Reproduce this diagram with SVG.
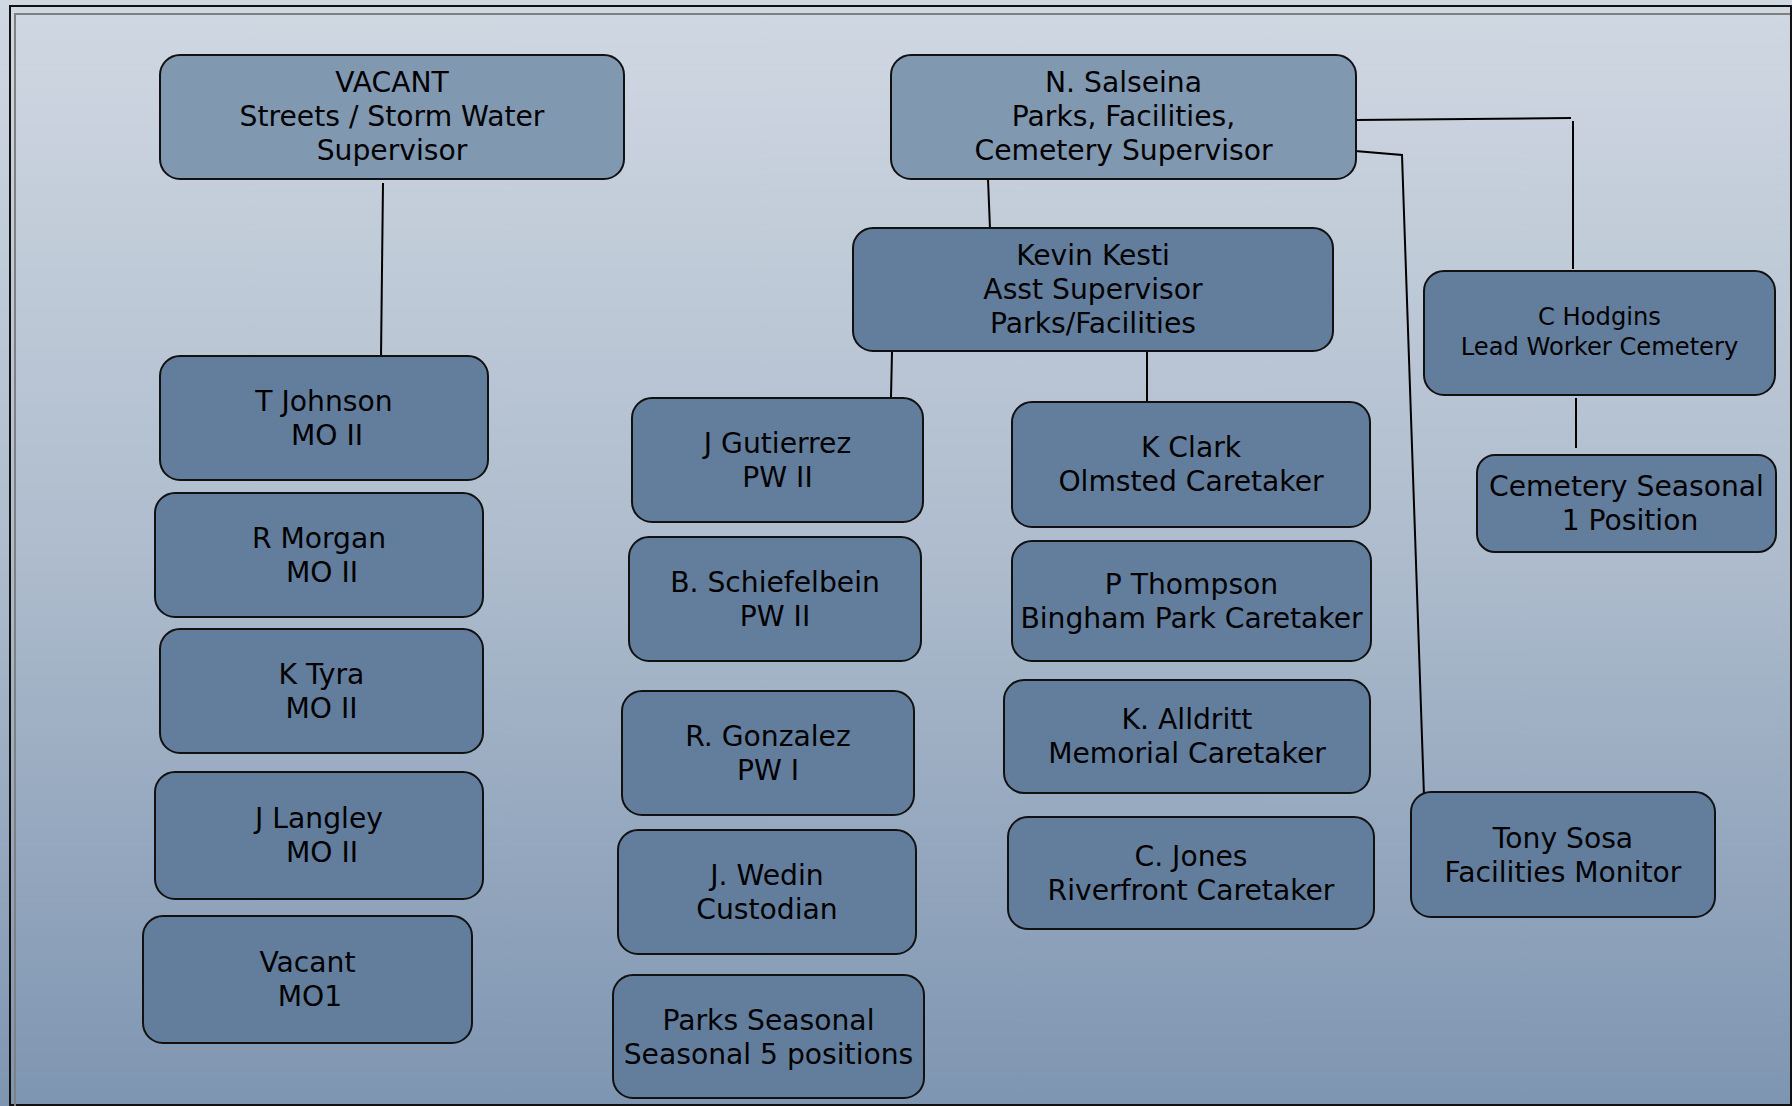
<svg xmlns="http://www.w3.org/2000/svg" width="1792" height="1106" viewBox="0 0 1792 1106">
<defs>
<linearGradient id="bg" x1="0" y1="0" x2="0" y2="1">
<stop offset="0" stop-color="#d0d8e2"/>
<stop offset="0.5" stop-color="#aebccd"/>
<stop offset="1" stop-color="#7e95b1"/>
</linearGradient>
<style>
.box{fill:#637e9c;stroke:#111;stroke-width:2}
.light{fill:#8198b1}
.t{font-family:"DejaVu Sans",Verdana,sans-serif;font-size:28.2px;fill:#000;text-anchor:middle}
.s{font-size:24.2px}
.c{stroke:#000;stroke-width:2;fill:none}
</style>
</defs>
<rect x="0" y="0" width="1792" height="1106" fill="url(#bg)"/>
<rect x="10" y="6" width="1781" height="1099" fill="none" stroke="#111" stroke-width="2"/>
<path d="M15,1106 V14 H1790" fill="none" stroke="#808080" stroke-width="2"/>

<g id="connectors">
<path class="c" d="M383,183 L381,357"/>
<path class="c" d="M988,179 L990,229"/>
<path class="c" d="M1355,120 L1571,118 M1573,121 L1573,269"/>
<path class="c" d="M1355,151 L1402,155 L1424,796"/>
<path class="c" d="M892,352 L891,397"/>
<path class="c" d="M1147,350 L1147,402"/>
<path class="c" d="M1576,398 L1576,448"/>
</g>

<g id="vacant_supervisor">
<rect class="box light" x="160" y="55" width="464" height="124" rx="20"/>
<text class="t" x="392"><tspan x="392" y="92">VACANT</tspan><tspan x="392" y="126">Streets / Storm Water</tspan><tspan x="392" y="160">Supervisor</tspan></text>
</g>
<g id="n_salseina">
<rect class="box light" x="891" y="55" width="465" height="124" rx="20"/>
<text class="t"><tspan x="1123.5" y="92">N. Salseina</tspan><tspan x="1123.5" y="126">Parks, Facilities,</tspan><tspan x="1123.5" y="160">Cemetery Supervisor</tspan></text>
</g>
<g id="kevin_kesti">
<rect class="box" x="853" y="228" width="480" height="123" rx="20"/>
<text class="t"><tspan x="1093" y="265">Kevin Kesti</tspan><tspan x="1093" y="299">Asst Supervisor</tspan><tspan x="1093" y="333">Parks/Facilities</tspan></text>
</g>
<g id="c_hodgins">
<rect class="box" x="1424" y="271" width="351" height="124" rx="20"/>
<text class="t s"><tspan x="1599.5" y="325">C Hodgins</tspan><tspan x="1599.5" y="355">Lead Worker Cemetery</tspan></text>
</g>
<g id="cemetery_seasonal">
<rect class="box" x="1477" y="455" width="299" height="97" rx="18"/>
<text class="t"><tspan x="1626.5" y="496">Cemetery Seasonal</tspan><tspan x="1630" y="530">1 Position</tspan></text>
</g>
<g id="t_johnson">
<rect class="box" x="160" y="356" width="328" height="124" rx="20"/>
<text class="t"><tspan x="324" y="411">T Johnson</tspan><tspan x="327" y="445">MO II</tspan></text>
</g>
<g id="r_morgan">
<rect class="box" x="155" y="493" width="328" height="124" rx="20"/>
<text class="t"><tspan x="319" y="548">R Morgan</tspan><tspan x="322" y="582">MO II</tspan></text>
</g>
<g id="k_tyra">
<rect class="box" x="160" y="629" width="323" height="124" rx="20"/>
<text class="t"><tspan x="321.5" y="684">K Tyra</tspan><tspan x="321.5" y="718">MO II</tspan></text>
</g>
<g id="j_langley">
<rect class="box" x="155" y="772" width="328" height="127" rx="20"/>
<text class="t"><tspan x="319" y="828">J Langley</tspan><tspan x="322" y="862">MO II</tspan></text>
</g>
<g id="vacant_mo1">
<rect class="box" x="143" y="916" width="329" height="127" rx="20"/>
<text class="t"><tspan x="307.5" y="972">Vacant</tspan><tspan x="310" y="1006">MO1</tspan></text>
</g>
<g id="j_gutierrez">
<rect class="box" x="632" y="398" width="291" height="124" rx="20"/>
<text class="t"><tspan x="777.5" y="453">J Gutierrez</tspan><tspan x="777.5" y="487">PW II</tspan></text>
</g>
<g id="b_schiefelbein">
<rect class="box" x="629" y="537" width="292" height="124" rx="20"/>
<text class="t"><tspan x="775" y="592">B. Schiefelbein</tspan><tspan x="775" y="626">PW II</tspan></text>
</g>
<g id="r_gonzalez">
<rect class="box" x="622" y="691" width="292" height="124" rx="20"/>
<text class="t"><tspan x="768" y="746">R. Gonzalez</tspan><tspan x="768" y="780">PW I</tspan></text>
</g>
<g id="j_wedin">
<rect class="box" x="618" y="830" width="298" height="124" rx="20"/>
<text class="t"><tspan x="767" y="885">J. Wedin</tspan><tspan x="767" y="919">Custodian</tspan></text>
</g>
<g id="parks_seasonal">
<rect class="box" x="613" y="975" width="311" height="123" rx="20"/>
<text class="t"><tspan x="768.5" y="1030">Parks Seasonal</tspan><tspan x="768.5" y="1064">Seasonal 5 positions</tspan></text>
</g>
<g id="k_clark">
<rect class="box" x="1012" y="402" width="358" height="125" rx="20"/>
<text class="t"><tspan x="1191" y="457">K Clark</tspan><tspan x="1191" y="491">Olmsted Caretaker</tspan></text>
</g>
<g id="p_thompson">
<rect class="box" x="1012" y="541" width="359" height="120" rx="20"/>
<text class="t"><tspan x="1191.5" y="594">P Thompson</tspan><tspan x="1191.5" y="628">Bingham Park Caretaker</tspan></text>
</g>
<g id="k_alldritt">
<rect class="box" x="1004" y="680" width="366" height="113" rx="20"/>
<text class="t"><tspan x="1187" y="729">K. Alldritt</tspan><tspan x="1187" y="763">Memorial Caretaker</tspan></text>
</g>
<g id="c_jones">
<rect class="box" x="1008" y="817" width="366" height="112" rx="20"/>
<text class="t"><tspan x="1191" y="866">C. Jones</tspan><tspan x="1191" y="900">Riverfront Caretaker</tspan></text>
</g>
<g id="tony_sosa">
<rect class="box" x="1411" y="792" width="304" height="125" rx="20"/>
<text class="t"><tspan x="1563" y="848">Tony Sosa</tspan><tspan x="1563" y="882">Facilities Monitor</tspan></text>
</g>
</svg>
